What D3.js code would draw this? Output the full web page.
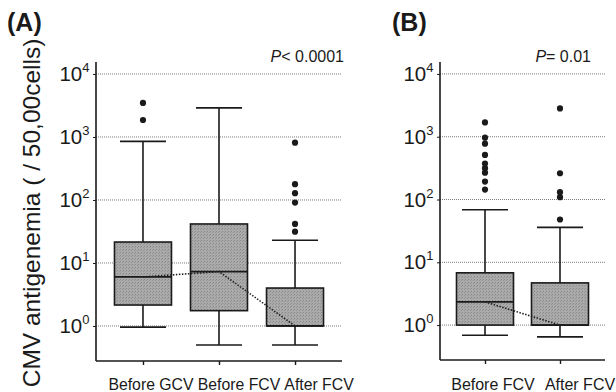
<!DOCTYPE html>
<html>
<head>
<meta charset="utf-8">
<script src="https://cdn.jsdelivr.net/npm/d3@7"></script>
<style>
  html, body { margin: 0; padding: 0; background: #fff; }
  svg { display: block; font-family: "Liberation Sans", Arial, Helvetica, sans-serif; }
</style>
</head>
<body>
<svg id="chart" width="616" height="392"></svg>
<script>
// ---------- data ----------
const tickValues = [1, 10, 100, 1000, 10000];
const tickExponents = ["0", "1", "2", "3", "4"];

const catsA = ["Before GCV", "Before FCV", "After FCV"];
const whiskerLowA = [0.96, 0.5, 0.5];
const q1A = [2.15, 1.75, 1.0];
const medianA = [6.0, 7.3, 1.0];
const q3A = [21.5, 41.6, 4.0];
const whiskerHighA = [850, 2900, 23];
const outliersA = [[3470, 1860], [], [812, 178, 128, 91, 41.6, 31.4]];

const catsB = ["Before FCV", "After FCV"];
const whiskerLowB = [0.69, 0.65];
const q1B = [1.0, 1.0];
const medianB = [2.34, 1.0];
const q3B = [6.8, 4.7];
const whiskerHighB = [68.7, 36];
const outliersB = [[1687, 964, 774, 512, 373, 316, 268, 193, 144], [2820, 262, 131, 109, 48]];

const panelLabels = ["(A)", "(B)"];
const pLabels = [["P", "< 0.0001"], ["P", "= 0.01"]];
const yTitle = "CMV antigenemia ( / 50,00cells)";

// ---------- drawing ----------
const svg = d3.select("#chart");
const ink = "#1a1a1a";

// stipple texture for boxes
const defs = svg.append("defs");
const pat = defs.append("pattern").attr("id", "stip").attr("width", 3).attr("height", 3)
  .attr("patternUnits", "userSpaceOnUse");
pat.append("rect").attr("width", 3).attr("height", 3).attr("fill", "#aaaaaa");
pat.append("rect").attr("x", 0).attr("y", 0).attr("width", 1).attr("height", 1).attr("fill", "#878787");
pat.append("rect").attr("x", 2).attr("y", 1).attr("width", 1).attr("height", 1).attr("fill", "#939393");

const yDomain = [Math.pow(10, -0.556), Math.pow(10, 4.19)];

function buildPanel(cfg) {
  const g = svg.append("g");
  const y = d3.scaleLog().domain(yDomain).range([cfg.bottom, cfg.top]);
  const x = d3.scalePoint().domain(cfg.cats).range([cfg.left, cfg.right]).padding(cfg.pad);
  const rows = cfg.cats.map((c, i) => ({
    cat: c, lo: cfg.lo[i], q1: cfg.q1[i], med: cfg.med[i], q3: cfg.q3[i], hi: cfg.hi[i], out: cfg.out[i]
  }));

  // gridlines
  g.append("g").selectAll("line").data(tickValues).join("line")
    .attr("x1", cfg.left).attr("x2", cfg.right)
    .attr("y1", d => y(d)).attr("y2", d => y(d))
    .attr("stroke", "#7a7a7a").attr("stroke-width", 1).attr("stroke-dasharray", "1,1");

  const boxW = 57, capW = 46;
  // whiskers
  const wg = g.append("g").attr("stroke", ink).attr("stroke-width", 1.6);
  wg.selectAll("line.v").data(rows).join("line").attr("class", "v")
    .attr("x1", d => x(d.cat)).attr("x2", d => x(d.cat))
    .attr("y1", d => y(d.lo)).attr("y2", d => y(d.hi));
  wg.selectAll("line.ch").data(rows).join("line").attr("class", "ch")
    .attr("x1", d => x(d.cat) - capW / 2).attr("x2", d => x(d.cat) + capW / 2)
    .attr("y1", d => y(d.hi)).attr("y2", d => y(d.hi));
  wg.selectAll("line.cl").data(rows).join("line").attr("class", "cl")
    .attr("x1", d => x(d.cat) - capW / 2).attr("x2", d => x(d.cat) + capW / 2)
    .attr("y1", d => y(d.lo)).attr("y2", d => y(d.lo));

  // boxes
  g.append("g").selectAll("rect").data(rows).join("rect")
    .attr("x", d => x(d.cat) - boxW / 2).attr("width", boxW)
    .attr("y", d => y(d.q3)).attr("height", d => y(d.q1) - y(d.q3))
    .attr("fill", "url(#stip)").attr("stroke", ink).attr("stroke-width", 1.6);

  // medians
  g.append("g").selectAll("line").data(rows).join("line")
    .attr("x1", d => x(d.cat) - boxW / 2).attr("x2", d => x(d.cat) + boxW / 2)
    .attr("y1", d => y(d.med)).attr("y2", d => y(d.med))
    .attr("stroke", ink).attr("stroke-width", 1.8);

  // median connector
  g.append("path").datum(rows)
    .attr("d", d3.line().x(d => x(d.cat)).y(d => y(d.med)))
    .attr("fill", "none").attr("stroke", "#222").attr("stroke-width", 1.6)
    .attr("stroke-dasharray", "1.5,1.5");

  // outliers
  const pts = rows.flatMap(d => d.out.map(v => ({ cat: d.cat, v })));
  g.append("g").selectAll("circle").data(pts).join("circle")
    .attr("cx", d => x(d.cat)).attr("cy", d => y(d.v)).attr("r", 3.1).attr("fill", ink);

  // axes
  const yAxis = d3.axisLeft(y).tickValues(tickValues).tickSize(3).tickFormat("");
  const ya = g.append("g").attr("transform", `translate(${cfg.left},0)`).call(yAxis);
  ya.select(".domain").attr("d", `M0,${cfg.top}V${cfg.bottom}`).attr("stroke", ink).attr("stroke-width", 1.6);
  ya.selectAll(".tick line").attr("stroke", ink);

  const xAxis = d3.axisBottom(x).tickSize(4).tickFormat("");
  const xa = g.append("g").attr("transform", `translate(0,${cfg.bottom})`).call(xAxis);
  xa.select(".domain").attr("d", `M${cfg.left},0H${cfg.right}`).attr("stroke", ink).attr("stroke-width", 1.6);
  xa.selectAll(".tick line").attr("stroke", ink).attr("stroke-width", 1.4);

  // y tick labels 10^n
  const tl = g.append("g").selectAll("text").data(tickValues).join("text")
    .attr("x", cfg.left - 6.5).attr("y", d => y(d) + 7.2)
    .attr("text-anchor", "end").attr("fill", ink).attr("font-size", 20.5);
  tl.append("tspan").text("10");
  tl.append("tspan").attr("font-size", 13).attr("dy", -9).text((d, i) => tickExponents[i]);

  // x labels
  g.append("g").selectAll("text").data(cfg.cats).join("text")
    .attr("x", (d, i) => x(d) + cfg.labelDx[i]).attr("y", 389.5)
    .attr("text-anchor", "middle").attr("fill", ink).attr("font-size", cfg.labelSize)
    .text(d => d);

  // P value
  const pt = g.append("text").attr("x", cfg.pX).attr("y", 61.5).attr("text-anchor", "end")
    .attr("fill", ink).attr("font-size", 16);
  pt.append("tspan").attr("font-style", "italic").text(cfg.p[0]);
  pt.append("tspan").text(cfg.p[1]);

  // panel label
  g.append("text").attr("x", cfg.labX).attr("y", 31).attr("font-weight", "bold")
    .attr("font-size", 25).attr("fill", ink).text(cfg.panel);
}

buildPanel({
  cats: catsA, lo: whiskerLowA, q1: q1A, med: medianA, q3: q3A, hi: whiskerHighA, out: outliersA,
  left: 96, right: 342, top: 62, bottom: 361, pad: 0.618,
  labelDx: [8, 20, 24], labelSize: 15.8, pX: 344, p: pLabels[0], labX: 7, panel: panelLabels[0]
});
buildPanel({
  cats: catsB, lo: whiskerLowB, q1: q1B, med: medianB, q3: q3B, hi: whiskerHighB, out: outliersB,
  left: 440, right: 605, top: 62, bottom: 360, pad: 0.6,
  labelDx: [8, 20], labelSize: 16, pX: 591, p: pLabels[1], labX: 392, panel: panelLabels[1]
});

// y title
svg.append("text")
  .attr("transform", "translate(40,213) rotate(-90)")
  .attr("text-anchor", "middle").attr("fill", ink).attr("font-size", 24.5)
  .text(yTitle);
</script>
</body>
</html>
